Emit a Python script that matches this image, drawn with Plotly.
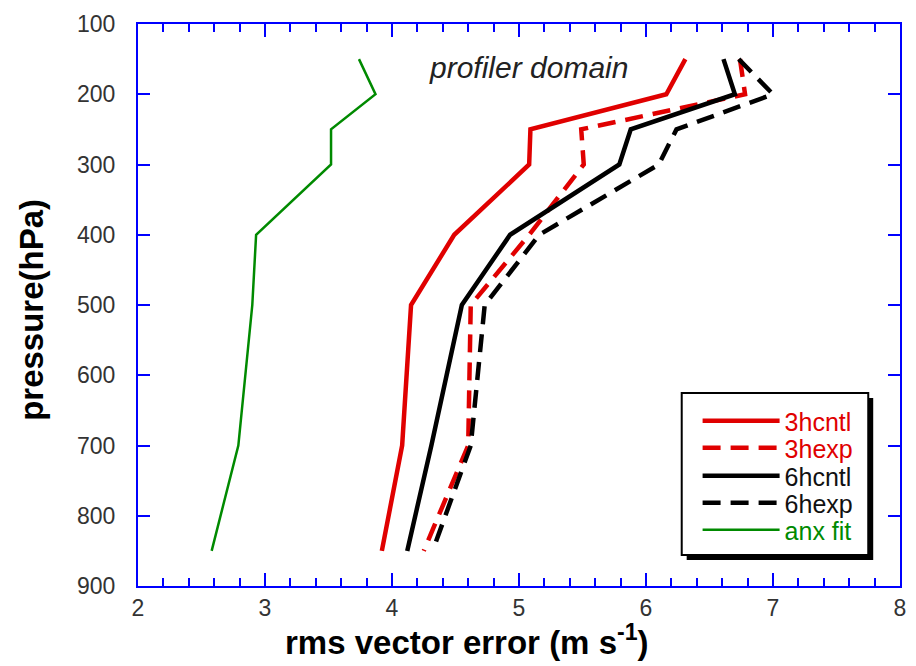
import plotly.graph_objects as go

pressure = [150, 200, 250, 300, 400, 500, 700, 850]
hcntl3 = [6.31, 6.16, 5.09, 5.08, 4.49, 4.15, 4.08, 3.92]
hexp3 = [6.74, 6.78, 5.49, 5.51, 5.08, 4.62, 4.60, 4.25]
hcntl6 = [6.61, 6.70, 5.88, 5.79, 4.93, 4.55, 4.31, 4.12]
hexp6 = [6.73, 7.00, 6.24, 6.10, 5.16, 4.73, 4.62, 4.32]
anxfit = [3.74, 3.87, 3.52, 3.52, 2.93, 2.90, 2.79, 2.58]

# x tick positions every 0.2, labelled at whole numbers
x_tickvals = [round(2 + 0.2 * k, 1) for k in range(31)]
x_ticktext = [str(int(v)) if float(v).is_integer() else " " for v in x_tickvals]

names = ["3hcntl", "3hexp", "6hcntl", "6hexp", "anx fit"]
series = [hcntl3, hexp3, hcntl6, hexp6, anxfit]
RED = "#e00000"
GREEN = "#008a00"
colors = [RED, RED, "#000000", "#000000", GREEN]
dashes = ["solid", "18px,10px", "solid", "18px,10px", "solid"]
widths = [4.5, 4.5, 4.5, 4.5, 2.5]
text_colors = [RED, RED, "#111111", "#111111", GREEN]

FONT = "Liberation Sans, Arial, Helvetica, sans-serif"

fig = go.Figure()
legend_ids = ["legend", "legend2", "legend3", "legend4", "legend5"]
for i in range(5):
    fig.add_trace(go.Scatter(
        x=series[i], y=pressure, mode="lines", name=names[i],
        line=dict(color=colors[i], width=widths[i], dash=dashes[i]),
        legend=legend_ids[i], showlegend=True,
    ))
# placeholder trace (draws nothing) so that the major-tick overlay axis is drawn
fig.add_trace(go.Scatter(x=[2, 8], y=[None, None], xaxis="x2", yaxis="y",
                         mode="lines", showlegend=False, hoverinfo="skip"))

# plot area in px: left 138, right 906, top 24, bottom 586
L, R, T, B = 138, 10, 24, 80
W, H = 916, 666
pw = W - L - R
ph = H - T - B

def px2x(px):
    return (px - L) / pw

def py2y(py):
    return (H - B - py) / ph

rows = [421, 448, 476, 503, 530]
ITEMW = 77
layout_legends = {}
for i, lid in enumerate(legend_ids):
    layout_legends[lid] = dict(
        x=px2x(784 - ITEMW - 5), y=py2y(rows[i]), xanchor="left", yanchor="middle",
        bgcolor="rgba(0,0,0,0)", borderwidth=0,
        font=dict(family=FONT, size=25, color=text_colors[i]),
        itemwidth=ITEMW,
    )

axis_common = dict(
    showline=True, linecolor="#0000ff", linewidth=2, mirror="ticks",
    ticks="inside", tickcolor="#0000ff", tickwidth=2, ticklen=12,
    showgrid=False, zeroline=False,
    tickfont=dict(family=FONT, size=23, color="#333333"),
)
xcommon = dict(axis_common)
xcommon["ticklen"] = 8

fig.update_layout(
    width=W, height=H,
    margin=dict(l=L, r=R, t=T, b=B),
    paper_bgcolor="white", plot_bgcolor="white",
    xaxis=dict(range=[2, 8], tickmode="array", tickvals=x_tickvals, ticktext=x_ticktext,
               ticklabelstandoff=0, layer="above traces", **xcommon),
    xaxis2=dict(range=[2, 8], dtick=1, tick0=2, overlaying="x", anchor="y",
                side="bottom", showline=False, showgrid=False, zeroline=False,
                ticks="inside", ticklen=13, tickwidth=2, tickcolor="#0000ff",
                mirror="ticks", showticklabels=False),
    yaxis=dict(range=[900, 100], dtick=100, tick0=100,
               ticklabelstandoff=16, **axis_common),
    **layout_legends,
    shapes=[
        dict(type="rect", xref="paper", yref="paper",
             x0=px2x(691), x1=px2x(879), y0=py2y(560), y1=py2y(398),
             fillcolor="#000000", line=dict(width=0), layer="above"),
        dict(type="rect", xref="paper", yref="paper",
             x0=px2x(686), x1=px2x(874), y0=py2y(555), y1=py2y(393),
             fillcolor="#ffffff", line=dict(color="#000000", width=2), layer="above"),
    ],
    annotations=[
        dict(text="<i>profiler domain</i>", xref="paper", yref="paper",
             x=px2x(532), y=py2y(68), xanchor="center", yanchor="middle",
             showarrow=False, font=dict(family=FONT, size=30, color="#222222")),
        dict(text="<b>rms vector error (m s<sup>-1</sup>)</b>", xref="paper", yref="paper",
             x=px2x(470), y=py2y(640), xanchor="center", yanchor="middle",
             showarrow=False, font=dict(family=FONT, size=33, color="#000000")),
        dict(text="<b>pressure(hPa)</b>", xref="paper", yref="paper",
             x=px2x(30), y=py2y(310), xanchor="center", yanchor="middle",
             textangle=-90, showarrow=False,
             font=dict(family=FONT, size=33, color="#000000")),
    ],
)

fig.write_html("out.html")
